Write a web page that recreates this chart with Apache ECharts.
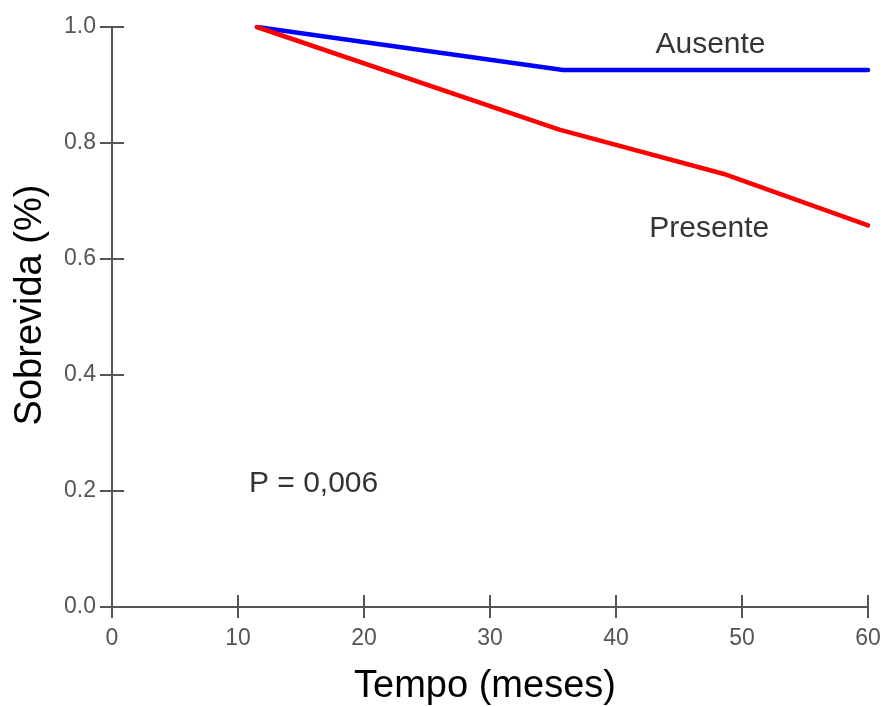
<!DOCTYPE html>
<html>
<head>
<meta charset="utf-8">
<script src="https://cdn.jsdelivr.net/npm/echarts@6/dist/echarts.min.js"></script>
<style>
  html, body { margin: 0; padding: 0; background: #fff; }
  #chart { width: 885px; height: 707px; }
</style>
</head>
<body>
<div id="chart"></div>
<script>
// Survival curves (Kaplan-Meier style), time in months
const xTicks = [0, 10, 20, 30, 40, 50, 60];
const yTicks = [0.0, 0.2, 0.4, 0.6, 0.8, 1.0];

const ausenteX = [11.5, 35.8, 60];
const ausenteY = [1.0, 0.926, 0.926];

const presenteX = [11.5, 35.5, 48.5, 60];
const presenteY = [1.0, 0.823, 0.747, 0.658];

const noteTexts = ['Ausente', 'Presente', 'P = 0,006'];
const noteX = [47.5, 47.4, 16.0];
const noteY = [0.969, 0.652, 0.212];

const FONT = "'Liberation Sans', Arial, sans-serif";

const pairs = (xs, ys) => xs.map((x, i) => [x, ys[i]]);

const chart = echarts.init(document.getElementById('chart'), null, { renderer: 'canvas' });

const axisLineStyle = { color: '#555', width: 2 };

chart.setOption({
  backgroundColor: '#ffffff',
  animation: false,
  grid: {
    left: 112, right: 17, top: 27, bottom: 100,
    containLabel: false, outerBoundsMode: 'none'
  },
  xAxis: [
    {
      type: 'value', min: xTicks[0], max: xTicks[xTicks.length - 1], interval: 10,
      name: 'Tempo (meses)', nameLocation: 'middle', nameGap: 61,
      nameTextStyle: { fontFamily: FONT, fontSize: 38, color: '#000', padding: [0, 10, 0, 0] },
      axisLine: { show: true, onZero: false, lineStyle: axisLineStyle },
      axisTick: { show: true, inside: true, length: 12, lineStyle: axisLineStyle },
      axisLabel: { fontFamily: FONT, fontSize: 23, color: '#555', margin: 20 },
      splitLine: { show: false }
    },
    {
      type: 'value', min: xTicks[0], max: xTicks[xTicks.length - 1], interval: 10,
      position: 'bottom',
      axisLine: { show: false },
      axisTick: { show: true, inside: false, length: 11, lineStyle: axisLineStyle },
      axisLabel: { show: false },
      splitLine: { show: false }
    }
  ],
  yAxis: [
    {
      type: 'value', min: yTicks[0], max: yTicks[yTicks.length - 1], interval: 0.2,
      name: 'Sobrevida (%)', nameLocation: 'middle', nameGap: 62,
      nameTextStyle: { fontFamily: FONT, fontSize: 38, color: '#000', padding: [0, 0, 0, 24] },
      axisLine: { show: true, onZero: false, lineStyle: axisLineStyle },
      axisTick: { show: true, inside: true, length: 12, lineStyle: axisLineStyle },
      axisLabel: {
        fontFamily: FONT, fontSize: 23, color: '#555', margin: 16,
        formatter: v => v.toFixed(1)
      },
      splitLine: { show: false }
    },
    {
      type: 'value', min: yTicks[0], max: yTicks[yTicks.length - 1], interval: 0.2,
      position: 'left',
      axisLine: { show: false },
      axisTick: { show: true, inside: false, length: 12, lineStyle: axisLineStyle },
      axisLabel: { show: false },
      splitLine: { show: false }
    }
  ],
  series: [
    {
      name: 'Ausente', type: 'line', data: pairs(ausenteX, ausenteY),
      showSymbol: false, lineStyle: { color: '#0000ff', width: 4.5, cap: 'round' },
      z: 3
    },
    {
      name: 'Presente', type: 'line', data: pairs(presenteX, presenteY),
      showSymbol: false, lineStyle: { color: '#ff0000', width: 4.5, cap: 'round' },
      z: 4
    },
    {
      name: 'notes', type: 'scatter', symbolSize: 0, silent: true,
      data: noteTexts.map((t, i) => ({ value: [noteX[i], noteY[i]], name: t })),
      label: {
        show: true, position: 'inside', formatter: p => p.name,
        fontFamily: FONT, fontSize: 30, color: '#000'
      }
    }
  ]
});
</script>
</body>
</html>
